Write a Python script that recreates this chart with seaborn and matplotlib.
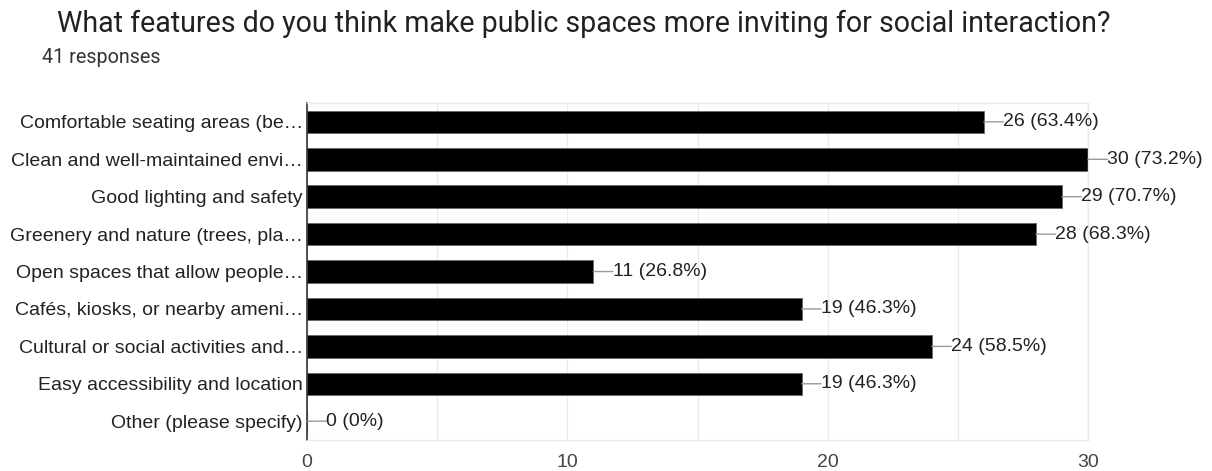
import matplotlib
matplotlib.use("Agg")
import matplotlib.pyplot as plt
import seaborn as sns
import pandas as pd

categories = [
    "Comfortable seating areas (be\u2026",
    "Clean and well-maintained envi\u2026",
    "Good lighting and safety",
    "Greenery and nature (trees, pla\u2026",
    "Open spaces that allow people\u2026",
    "Caf\u00e9s, kiosks, or nearby ameni\u2026",
    "Cultural or social activities and\u2026",
    "Easy accessibility and location",
    "Other (please specify)",
]
counts = [26, 30, 29, 28, 11, 19, 24, 19, 0]
percents = ["63.4%", "73.2%", "70.7%", "68.3%", "26.8%", "46.3%", "58.5%", "46.3%", "0%"]
xticks = [0, 10, 20, 30]

sns.set_theme(style="white")
plt.rcParams["font.family"] = ["Liberation Sans", "DejaVu Sans"]

df = pd.DataFrame({"category": categories, "count": counts})

fig = plt.figure(figsize=(12.12, 4.71), dpi=100)
ax = fig.add_axes([0.2533, 0.066, 0.6444, 0.715])

sns.barplot(data=df, y="category", x="count", orient="h", color="black",
            saturation=1, width=0.6, edgecolor="#666666", linewidth=0.6, ax=ax)

ax.set_xlim(0, 30)
ax.set_xticks(xticks)
ax.set_xticks(range(0, 31, 5), minor=True)
ax.grid(True, axis="x", which="both", color="#ebebeb", linewidth=1)
ax.set_axisbelow(True)
ax.set_xlabel("")
ax.set_ylabel("")
for s in ["top", "bottom", "right"]:
    ax.spines[s].set_color("#ebebeb")
    ax.spines[s].set_linewidth(1)
ax.spines["left"].set_color("#333333")
ax.spines["left"].set_linewidth(1.2)
ax.tick_params(axis="y", labelsize=14, colors="#222222", length=0, pad=3)
ax.tick_params(axis="x", which="both", labelsize=14, colors="#444444", length=0, pad=10)

for i, (c, p) in enumerate(zip(counts, percents)):
    ax.annotate("", xy=(c, i), xycoords="data", xytext=(14, 0), textcoords="offset points",
                arrowprops=dict(arrowstyle="-", color="#999999", lw=1, shrinkA=0, shrinkB=0),
                annotation_clip=False)
    ax.annotate(f"{c} ({p})", xy=(c, i), xycoords="data", xytext=(14, 0),
                textcoords="offset points", va="center", ha="left", fontsize=14,
                color="#222222", annotation_clip=False)

fig.text(0.047, 0.95, "What features do you think make public spaces more inviting for social interaction?",
         fontsize=20.6, color="#212121", va="center", ha="left", family=["Roboto", "DejaVu Sans"])
fig.text(0.035, 0.877, "41 responses", fontsize=14.2, color="#333333", va="center", ha="left",
         family=["Roboto", "DejaVu Sans"])

fig.savefig("out.png", dpi=100)
